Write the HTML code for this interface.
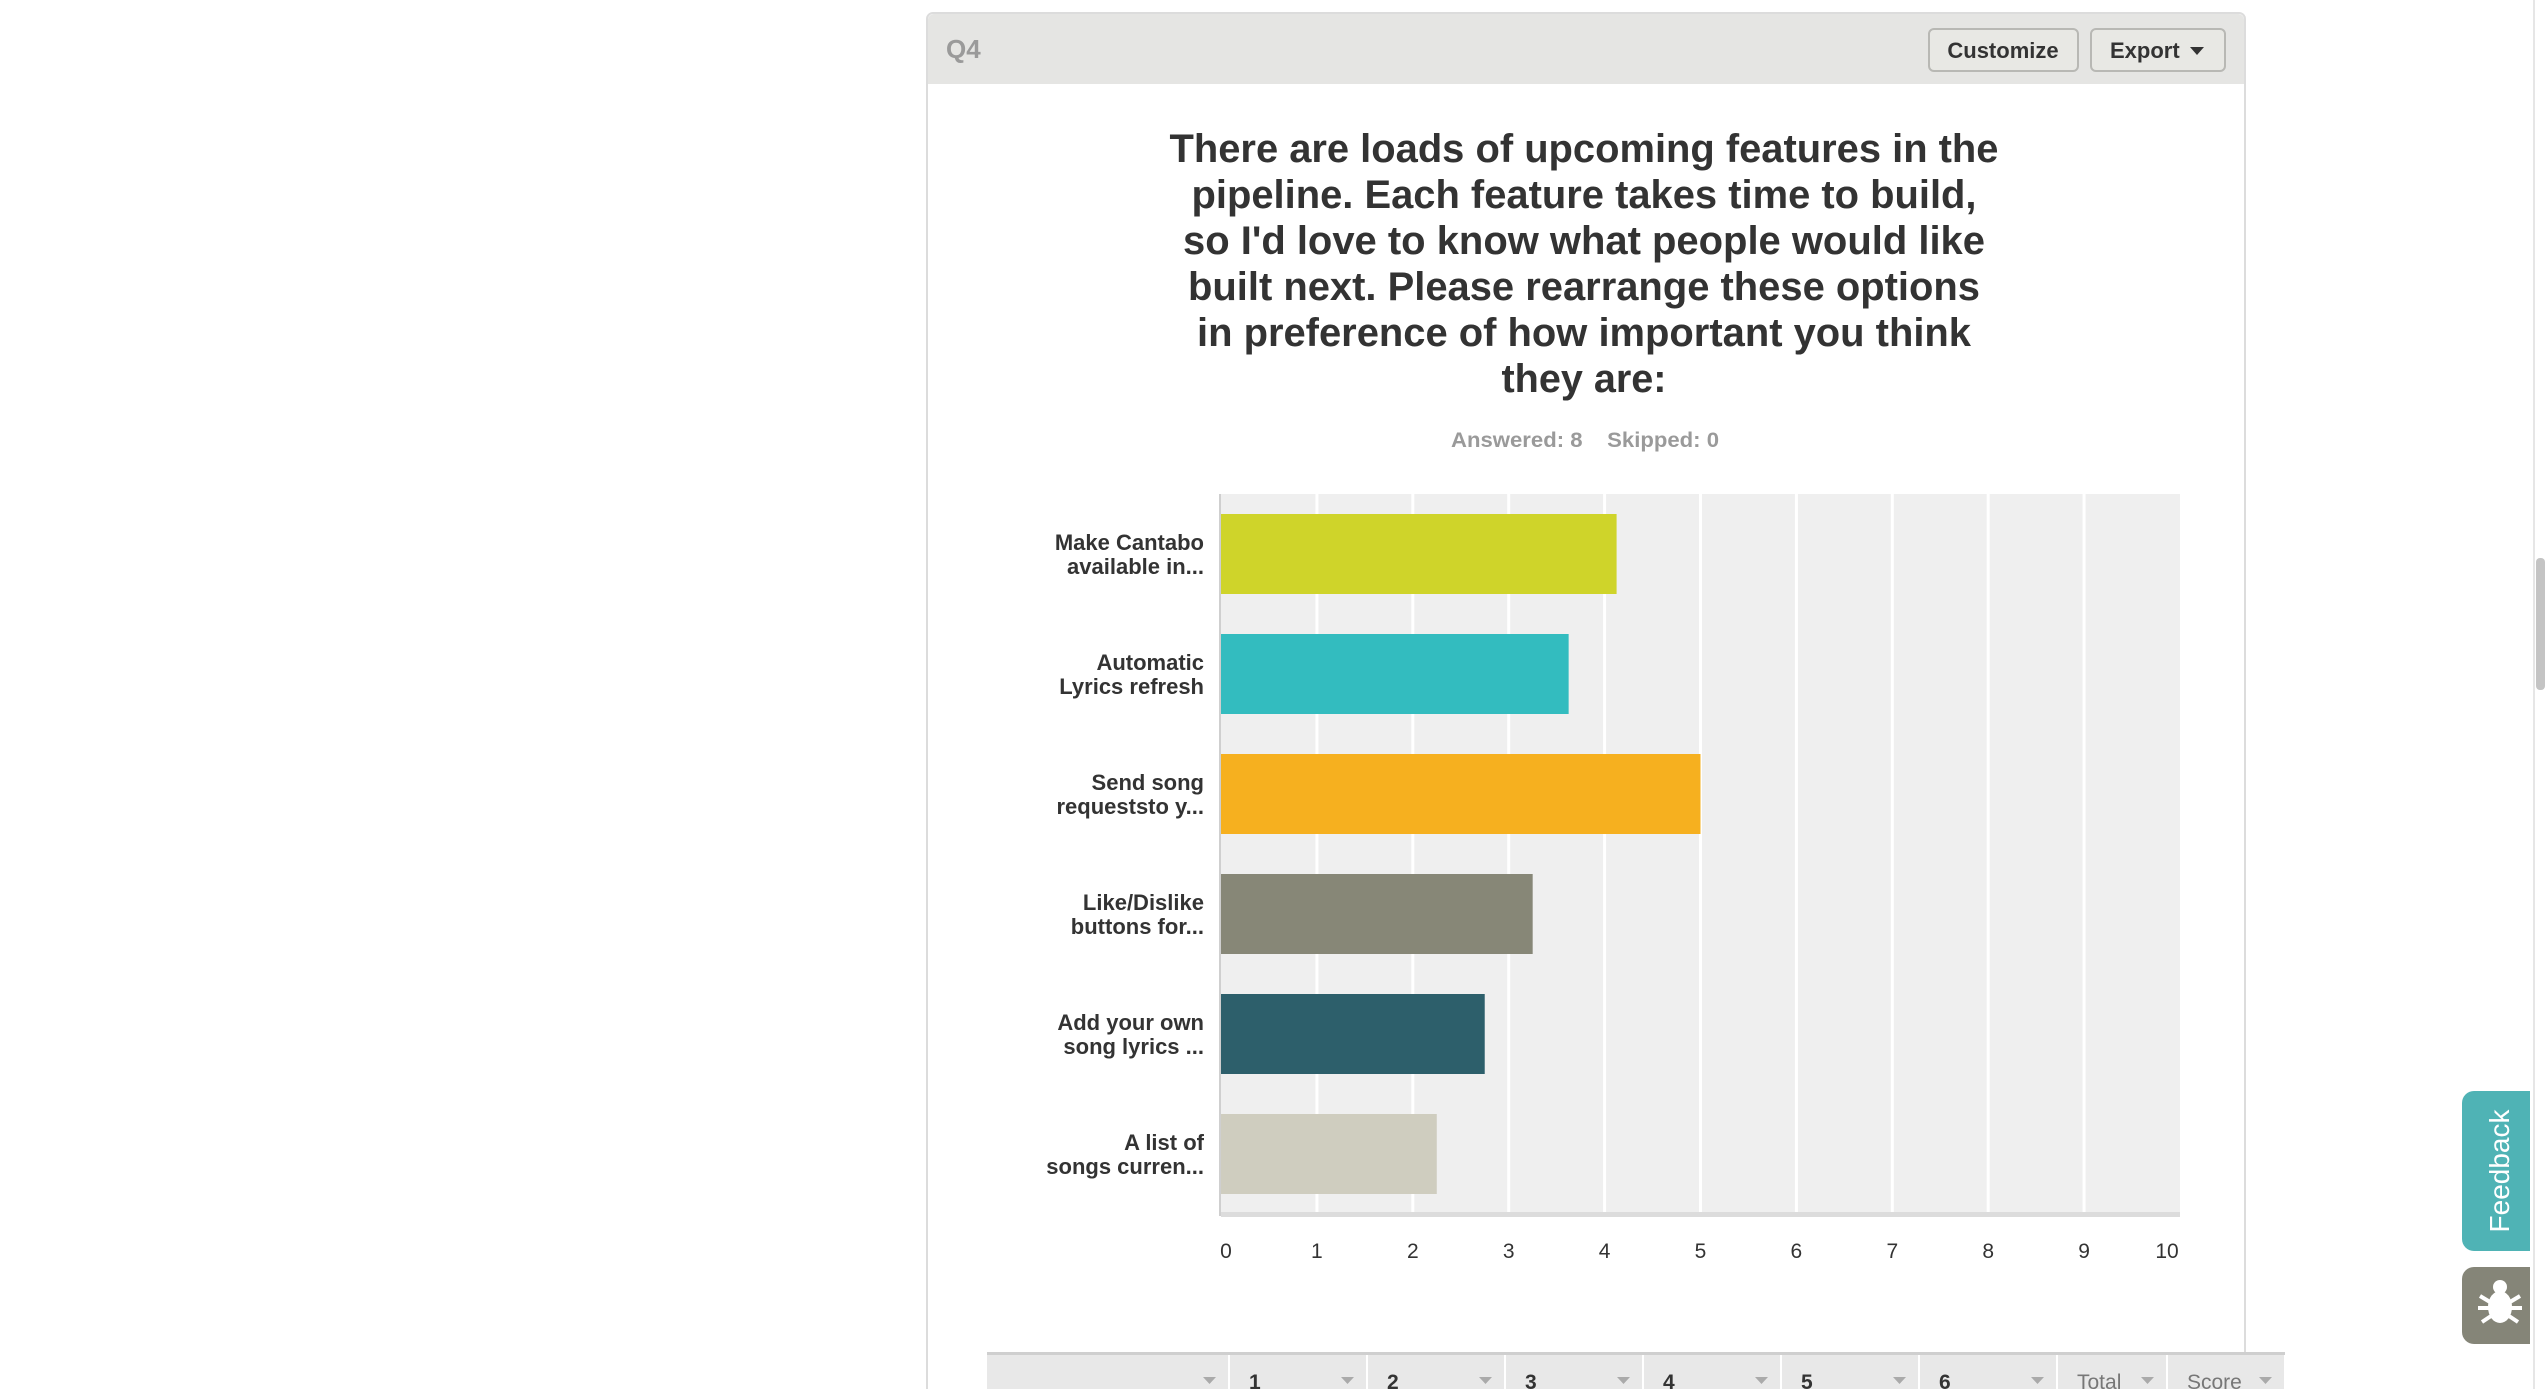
<!DOCTYPE html>
<html><head><meta charset="utf-8"><style>
html,body{margin:0;padding:0;background:#fff;}
svg{display:block;font-family:"Liberation Sans",Arial,sans-serif;}
</style></head><body>
<svg id="s" width="2545" height="1389" viewBox="0 0 2545 1389">
<rect x="927" y="13" width="1318" height="1390" rx="6" fill="#fff" stroke="#dcdcdc" stroke-width="2"/>
<path d="M928 84 V20 a6 6 0 0 1 6 -6 H2238 a6 6 0 0 1 6 6 V84 Z" fill="#e5e5e3"/>
<text x="946" y="58" font-size="26" font-weight="bold" fill="#9a9a9a">Q4</text>
<g>
<rect x="1929" y="29" width="149" height="42" rx="5" fill="#e8e8e4" stroke="#b8b8b4" stroke-width="2"/>
<text x="2003" y="58" font-size="22" font-weight="bold" fill="#333" text-anchor="middle">Customize</text></g>
<g>
<rect x="2091" y="29" width="134" height="42" rx="5" fill="#e8e8e4" stroke="#b8b8b4" stroke-width="2"/>
<text x="2110" y="58" font-size="22" font-weight="bold" fill="#333">Export</text>
<path d="M2190 47 h14 l-7 8 z" fill="#333"/></g>
<g font-size="40" font-weight="bold" fill="#333" text-anchor="middle">
<text x="1584" y="162" textLength="829" lengthAdjust="spacingAndGlyphs">There are loads of upcoming features in the</text>
<text x="1584" y="208" textLength="785" lengthAdjust="spacingAndGlyphs">pipeline. Each feature takes time to build,</text>
<text x="1584" y="254" textLength="802" lengthAdjust="spacingAndGlyphs">so I'd love to know what people would like</text>
<text x="1584" y="300" textLength="792" lengthAdjust="spacingAndGlyphs">built next. Please rearrange these options</text>
<text x="1584" y="346" textLength="774" lengthAdjust="spacingAndGlyphs">in preference of how important you think</text>
<text x="1584" y="392" textLength="165" lengthAdjust="spacingAndGlyphs">they are:</text>
</g>
<text x="1585" y="447" font-size="21" font-weight="bold" fill="#9a9a9a" text-anchor="middle" textLength="268" lengthAdjust="spacingAndGlyphs">Answered: 8 &#160;&#160; Skipped: 0</text>
<g id="chart"></g>
<g id="tbl"></g>
<g>
<path d="M2474 1091 H2530 V1251 H2474 a12 12 0 0 1 -12 -12 V1103 a12 12 0 0 1 12 -12 Z" fill="#4fb3b5"/>
<text transform="translate(2509 1171) rotate(-90)" font-size="28" fill="#fff" text-anchor="middle">Feedback</text></g>
<g>
<path d="M2474 1267 H2530 V1344 H2474 a12 12 0 0 1 -12 -12 V1279 a12 12 0 0 1 12 -12 Z" fill="#858578"/>
<ellipse cx="2500" cy="1307" rx="12" ry="16" fill="#fff"/><circle cx="2500" cy="1287" r="7" fill="#fff"/>
<path d="M2480 1296 l10 6 M2520 1296 l-10 6 M2478 1308 h44 M2482 1322 l9 -6 M2518 1322 l-9 -6" stroke="#fff" stroke-width="4"/></g>
<rect x="2533" y="0" width="2" height="1389" fill="#e6e6e6"/>
<rect x="2536" y="558" width="9" height="132" rx="4" fill="#c4c4c4"/>
</svg>
<script>
const categories1 = ["Make Cantabo","Automatic","Send song","Like/Dislike","Add your own","A list of"];
const categories2 = ["available in...","Lyrics refresh","requeststo y...","buttons for...","song lyrics ...","songs curren..."];
const scores = [4.125, 3.625, 5.0, 3.25, 2.75, 2.25];
const colors = ["#cfd42a","#33bcbf","#f6b01f","#878777","#2d5f6b","#cfcdbf"];
const ticks = [0,1,2,3,4,5,6,7,8,9,10];
const NS="http://www.w3.org/2000/svg";
const X0=1221,X1=2180,TOP=494,BAND=120,BOT=TOP+BAND*6;
const x=v=>X0+v*(X1-X0)/10;
const g=document.getElementById('chart');
function mk(t,a,p){const e=document.createElementNS(NS,t);for(const k in a)e.setAttribute(k,a[k]);(p||g).appendChild(e);return e;}
const bg=mk('rect',{x:X0,y:TOP,width:X1-X0,height:BOT-TOP,fill:'#efefef'});


ticks.forEach(t=>{
 if(t>0&&t<10){const l=mk('line',{x1:x(t),x2:x(t),y1:TOP,y2:BOT,stroke:'#fff','stroke-width':3});
 
 }
 const tx=mk('text',{x:x(t)+(t===0?5:t===10?-13:0),y:1258,'font-size':21,fill:'#333','text-anchor':'middle'});
 tx.textContent=t;
 
 
});
const ax=mk('rect',{x:X0,y:BOT-2,width:X1-X0,height:5,fill:'#dcdcdc'});


const ay=mk('rect',{x:X0-2,y:TOP,width:2,height:BOT-TOP+2,fill:'#cfcfcf'});


scores.forEach((v,i)=>{
 const y0=TOP+i*BAND;
 const b=mk('rect',{x:X0,y:y0+20,width:x(v)-X0,height:80,fill:colors[i]});
 
 
 const t1=mk('text',{x:1204,y:y0+56,'font-size':22,'font-weight':'bold',fill:'#333','text-anchor':'end'});
 t1.textContent=categories1[i];
 
 
 const t2=mk('text',{x:1204,y:y0+80,'font-size':22,'font-weight':'bold',fill:'#333','text-anchor':'end'});
 t2.textContent=categories2[i];
 
 
});
const tb=document.getElementById('tbl');
mk('rect',{x:987,y:1354,width:1298,height:40,fill:'#e8e8e8'},tb);
mk('rect',{x:987,y:1352,width:1298,height:3,fill:'#cfcfcf'},tb);
const seps=[1229,1367,1505,1643,1781,1919,2057,2167,2285];
const heads=["","1","2","3","4","5","6","Total","Score"];
let prev=987;
seps.forEach((s,i)=>{
 mk('line',{x1:s,x2:s,y1:1355,y2:1389,stroke:'#fff','stroke-width':2},tb);
 if(heads[i]){const t=mk('text',{x:prev+20,y:1389,'font-size':21,'font-weight':i<7?'bold':'normal',fill:i<7?'#333':'#777'},tb);t.textContent=heads[i];
 
 }
 mk('path',{d:`M${s-26} 1377 h13 l-6.5 7 z`,fill:'#aaa'},tb);
 prev=s;
});
</script>
</body></html>
